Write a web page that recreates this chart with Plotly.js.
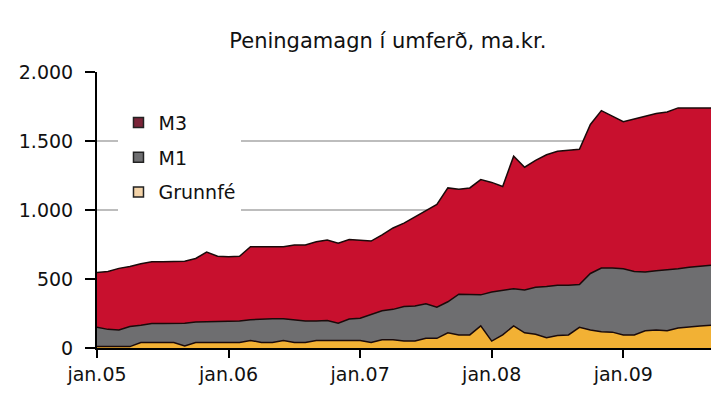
<!DOCTYPE html>
<html>
<head>
<meta charset="utf-8">
<script src="https://cdn.plot.ly/plotly-3.0.1.min.js"></script>
<style>html,body{margin:0;padding:0;background:#fff;}#chart{width:713px;height:411px;}</style>
</head>
<body>
<div id="chart"></div>
<script>
// Month / year labels (Icelandic)
const monthNames = ['jan','feb','mar','apr','maí','jún','júl','ágú','sep','okt','nóv','des'];
const years = ['05','06','07','08','09'];
const lastYearMonths = 9; // data ends Sep 2009

// Series values, ma.kr. (Jan 2005 - Sep 2009, monthly)
const m3 = [548,555,577,590,610,625,625,625,628,649,695,665,
            662,665,734,734,734,734,746,746,770,783,760,786,
            780,775,820,870,905,950,1000,1040,1160,1150,1160,1220,
            1200,1170,1390,1310,1360,1400,1425,1430,1440,1620,1720,1680,
            1640,1660,1680,1700,1710,1740,1740,1740,1740];
const m1 = [150,135,130,155,165,178,178,180,180,188,190,190,
            190,195,205,210,212,212,205,195,195,200,180,210,
            215,240,270,280,300,305,320,295,335,390,385,385,
            405,420,430,420,440,445,455,455,460,540,580,580,
            575,555,550,560,565,575,585,590,600];
const grunnfe = [10,10,10,10,40,40,40,40,15,40,40,40,
                 40,40,55,40,40,55,40,40,55,55,55,55,
                 55,40,60,60,50,50,70,70,110,95,95,160,
                 50,95,160,110,100,75,90,95,150,130,118,115,
                 95,95,125,130,125,145,155,160,165];

const seriesNames = ['M3','M1','Grunnfé'];
const seriesColors = ['#c8102e','#6e6e70','#f2b134'];
const legendColors = ['#7a2438','#6e6e70','#f3d3a8'];

// category labels
const cats = [];
years.forEach((y, yi) => {
  const n = (yi === years.length - 1) ? lastYearMonths : 12;
  for (let m = 0; m < n; m++) cats.push(monthNames[m] + '.' + y);
});
const tickCats = years.map(y => 'jan.' + y);

const values = [m3, m1, grunnfe];
const traces = [];
values.forEach((v, i) => {
  traces.push({
    x: cats, y: v, type: 'scatter', mode: 'lines', fill: 'tozeroy',
    fillcolor: seriesColors[i], line: {color: '#1a0a0a', width: 1.5},
    showlegend: false, hoverinfo: 'skip'
  });
});
seriesNames.forEach((n, i) => {
  traces.push({
    x: [null], y: [null], type: 'scatter', mode: 'markers', name: n,
    marker: {symbol: 'square', size: 10, color: legendColors[i], line: {color: '#222', width: 1.5}},
    legendgroup: 'g' + i
  });
});

const font = {family: 'DejaVu Sans, Liberation Sans, sans-serif', color: '#111'};

const layout = {
  width: 713, height: 411,
  margin: {l: 97, r: 2, t: 72, b: 63, pad: 0},
  paper_bgcolor: '#fff', plot_bgcolor: '#fff',
  separators: ',.',
  title: {text: 'Peningamagn í umferð, ma.kr.', x: 0.544, xanchor: 'center', y: 0.9, yanchor: 'middle',
          font: Object.assign({}, font, {size: 21})},
  xaxis: {
    type: 'category', range: [0, cats.length - 1],
    tickmode: 'array', tickvals: tickCats, ticktext: tickCats,
    ticks: 'outside', ticklen: 8, tickwidth: 2, tickcolor: '#000',
    showline: true, linecolor: '#000', linewidth: 2,
    showgrid: false, zeroline: false,
    tickfont: Object.assign({}, font, {size: 19})
  },
  yaxis: {
    range: [0, 2000], dtick: 500, tick0: 0, tickformat: ',d',
    ticks: 'outside', ticklen: 10, tickwidth: 2, tickcolor: '#000',
    ticklabelstandoff: 8,
    showline: true, linecolor: '#000', linewidth: 2,
    showgrid: true, gridcolor: '#bdbdbd', gridwidth: 1.5, zeroline: false,
    tickfont: Object.assign({}, font, {size: 19})
  },
  showlegend: true,
  legend: {
    x: 0.035, xanchor: 'left', y: 0.885, yanchor: 'top',
    bgcolor: '#fff', borderwidth: 0, tracegroupgap: 7,
    traceorder: 'grouped',
    font: Object.assign({}, font, {size: 19})
  }
};

Plotly.newPlot('chart', traces, layout, {staticPlot: true, displayModeBar: false});
</script>
</body>
</html>
